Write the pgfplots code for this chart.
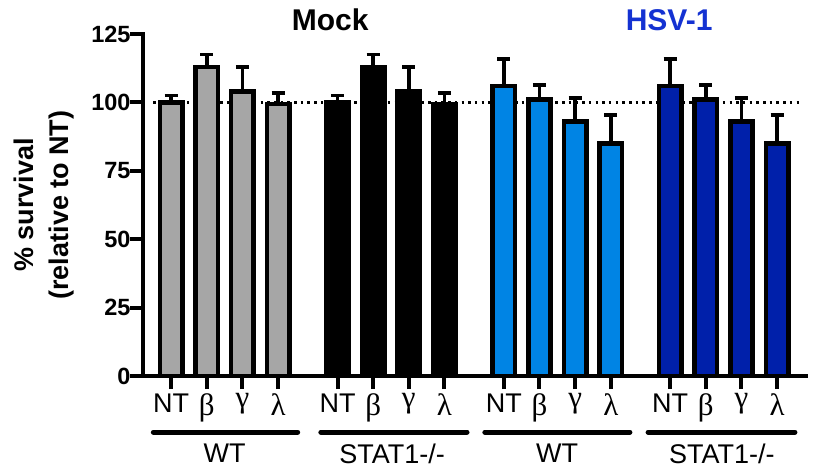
\documentclass[border=0pt]{standalone}
\usepackage{pgfplots}
\pgfplotsset{compat=1.18}
\usepackage{fontspec}
\setmainfont{Liberation Sans}
\newfontfamily\grk{Liberation Serif}
\definecolor{mgray}{RGB}{166,166,166}
\definecolor{lblue}{RGB}{0,132,228}
\definecolor{dblue}{RGB}{0,32,170}
\definecolor{tblue}{RGB}{20,50,210}
\newcommand{\gl}[1]{{\fontsize{31}{31}\selectfont\grk #1}}
\begin{document}
\begin{tikzpicture}
\useasboundingbox (-143pt,-96pt) rectangle (674pt,376pt);
\begin{axis}[
  scale only axis, width=663pt, height=342pt,
  xmin=-0.79, xmax=17.81, ymin=0, ymax=125,
  axis x line*=bottom, axis y line*=left,
  axis line style={line width=4.5pt, line cap=rect},
  ytick={0,25,50,75,100,125},
  xtick={0,1,2,3,4.667,5.667,6.667,7.667,9.333,10.333,11.333,12.333,14,15,16,17},
  xticklabels={NT,\gl{β},\gl{γ},\gl{λ},NT,\gl{β},\gl{γ},\gl{λ},NT,\gl{β},\gl{γ},\gl{λ},NT,\gl{β},\gl{γ},\gl{λ}},
  tick style={line width=4pt, black},
  major tick length=13pt, tick align=outside,
  /pgf/number format/assume math mode=true,
  yticklabel style={font=\fontsize{23.5}{23.5}\selectfont\bfseries, xshift=4pt},
  xticklabel style={font=\fontsize{27}{27}\selectfont, anchor=north, yshift=-1pt},
  ylabel={\% survival\\(relative to NT)},
  ylabel style={align=center, font=\fontsize{27}{35}\selectfont\bfseries, at={(axis description cs:-0.149,0.5)}, anchor=center},
  clip=false,
]
\addplot[black, line width=2.5pt, dash pattern=on 2.5pt off 4.2pt] coordinates {(-0.5,100) (17.64,100)};

\addplot[ybar, bar shift=0pt, bar width=0.63, fill=mgray, draw=black, line width=4.5pt,
  error bars/.cd, y dir=plus, y explicit, error bar style={line width=3.8pt, black},
  error mark options={rotate=90, mark size=6.5pt, line width=3.8pt, black}]
  coordinates {(0,100) +- (0,2.5) (1,113) +- (0,4.5) (2,104) +- (0,9) (3,99.5) +- (0,4)};
\addplot[ybar, bar shift=0pt, bar width=0.63, fill=black, draw=black, line width=4.5pt,
  error bars/.cd, y dir=plus, y explicit, error bar style={line width=3.8pt, black},
  error mark options={rotate=90, mark size=6.5pt, line width=3.8pt, black}]
  coordinates {(4.667,100) +- (0,2.5) (5.667,113) +- (0,4.5) (6.667,104) +- (0,9) (7.667,99.5) +- (0,4)};
\addplot[ybar, bar shift=0pt, bar width=0.63, fill=lblue, draw=black, line width=4.5pt,
  error bars/.cd, y dir=plus, y explicit, error bar style={line width=3.8pt, black},
  error mark options={rotate=90, mark size=6.5pt, line width=3.8pt, black}]
  coordinates {(9.333,106) +- (0,10) (10.333,101) +- (0,5.5) (11.333,93) +- (0,8.5) (12.333,85) +- (0,10.5)};
\addplot[ybar, bar shift=0pt, bar width=0.63, fill=dblue, draw=black, line width=4.5pt,
  error bars/.cd, y dir=plus, y explicit, error bar style={line width=3.8pt, black},
  error mark options={rotate=90, mark size=6.5pt, line width=3.8pt, black}]
  coordinates {(14,106) +- (0,10) (15,101) +- (0,5.5) (16,93) +- (0,8.5) (17,85) +- (0,10.5)};

\draw[line width=5pt, line cap=round] (axis cs:-0.5,-20.5) -- (axis cs:3.55,-20.5);
\draw[line width=5pt, line cap=round] (axis cs:4.2,-20.5) -- (axis cs:8.3,-20.5);
\draw[line width=5pt, line cap=round] (axis cs:8.8,-20.5) -- (axis cs:12.87,-20.5);
\draw[line width=5pt, line cap=round] (axis cs:13.38,-20.5) -- (axis cs:17.5,-20.5);
\node[font=\fontsize{27}{27}\selectfont] at (axis cs:1.5,-28.3) {WT};
\node[font=\fontsize{27}{27}\selectfont] at (axis cs:6.2,-28.3) {STAT1-/-};
\node[font=\fontsize{27}{27}\selectfont] at (axis cs:10.83,-28.3) {WT};
\node[font=\fontsize{27}{27}\selectfont] at (axis cs:15.45,-28.3) {STAT1-/-};
\node[font=\fontsize{30}{30}\selectfont\bfseries] at (axis cs:4.46,130.1) {Mock};
\node[font=\fontsize{30}{30}\selectfont\bfseries, text=tblue] at (axis cs:13.97,130.1) {HSV-1};
\end{axis}
\end{tikzpicture}
\end{document}
